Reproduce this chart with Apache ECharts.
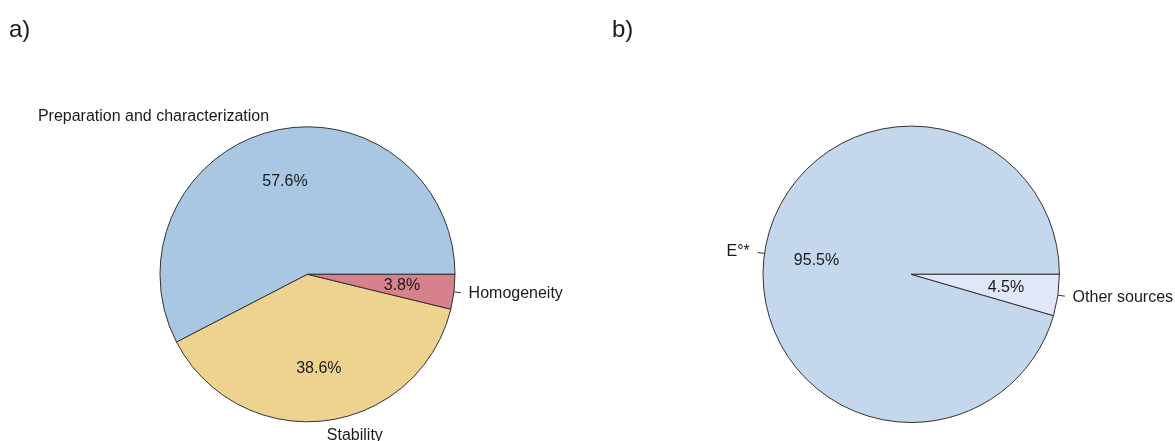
<!DOCTYPE html>
<html>
<head>
<meta charset="utf-8">
<script src="https://cdn.jsdelivr.net/npm/echarts@6/dist/echarts.min.js"></script>
<style>
html,body{margin:0;padding:0;background:#fff;}
#chart{width:1175px;height:441px;}
</style>
</head>
<body>
<div id="chart"></div>
<script>
// ---- data ----
const catsA = ['Preparation and characterization', 'Stability', 'Homogeneity'];
const valsA = [57.6, 38.6, 3.8];
const colorsA = ['#A9C7E2', '#EDD38F', '#D7818C'];
const catsB = ['E°*', 'Other sources'];
const valsB = [95.5, 4.5];
const colorsB = ['#C4D7EC', '#E1E6F8'];
const panelLabels = ['a)', 'b)'];

// ---- layout ----
const FONT = 'Liberation Sans, Arial, sans-serif';
const TXT = '#1a1a1a';
const pies = [
  {cats: catsA, vals: valsA, colors: colorsA, cx: 307.5, cy: 274.3, r: 147.5},
  {cats: catsB, vals: valsB, colors: colorsB, cx: 911.2, cy: 274.3, r: 148.2}
];

const series = [];
pies.forEach(function (p) {
  const box = {left: 0, top: 0, width: 1400, height: 441};
  const common = Object.assign({
    type: 'pie', center: [p.cx, p.cy], startAngle: 0, clockwise: false,
    avoidLabelOverlap: false, silent: true, animation: false,
    emphasis: {disabled: true}
  }, box);
  const fillData = p.cats.map(function (c, i) {
    return {name: c, value: p.vals[i], itemStyle: {color: p.colors[i]}};
  });
  const ghostData = p.cats.map(function (c, i) {
    return {name: c, value: p.vals[i], itemStyle: {color: 'rgba(0,0,0,0)'}};
  });
  // filled slices with short radial ticks
  series.push(Object.assign({}, common, {
    radius: [0, p.r],
    data: fillData,
    itemStyle: {borderColor: '#333333', borderWidth: 1},
    label: {show: true, position: 'outside', formatter: function () { return ' '; },
            fontSize: 16, distanceToLabelLine: 0, bleedMargin: 0},
    labelLine: {show: true, length: 7, length2: 0, smooth: false,
                lineStyle: {color: '#333333', width: 1}}
  }));
  // category names at 1.1 r
  series.push(Object.assign({}, common, {
    radius: [0, p.r * 1.1],
    data: ghostData,
    itemStyle: {borderWidth: 0},
    label: {show: true, position: 'outside', formatter: '{b}', color: TXT,
            fontFamily: FONT, fontSize: 16, distanceToLabelLine: 0, bleedMargin: 0,
            padding: [3, 0, 0, 0]},
    labelLine: {show: false, length: 0, length2: 0}
  }));
  // percentages at 0.625 r
  series.push(Object.assign({}, common, {
    radius: [0, p.r * 1.25],
    data: ghostData,
    itemStyle: {borderWidth: 0},
    label: {show: true, position: 'inside', color: TXT, fontFamily: FONT, fontSize: 16,
            padding: [4, 0, 0, 0],
            formatter: function (d) { return d.value.toFixed(1) + '%'; }},
    labelLine: {show: false}
  }));
});

const chart = echarts.init(document.getElementById('chart'), null, {renderer: 'canvas'});
chart.setOption({
  backgroundColor: '#ffffff',
  animation: false,
  title: [
    {text: panelLabels[0], left: 9, top: 18, padding: 0,
     textStyle: {fontFamily: FONT, fontSize: 24, fontWeight: 'normal', color: TXT}},
    {text: panelLabels[1], left: 612, top: 18, padding: 0,
     textStyle: {fontFamily: FONT, fontSize: 24, fontWeight: 'normal', color: TXT}}
  ],
  series: series
});
</script>
</body>
</html>
